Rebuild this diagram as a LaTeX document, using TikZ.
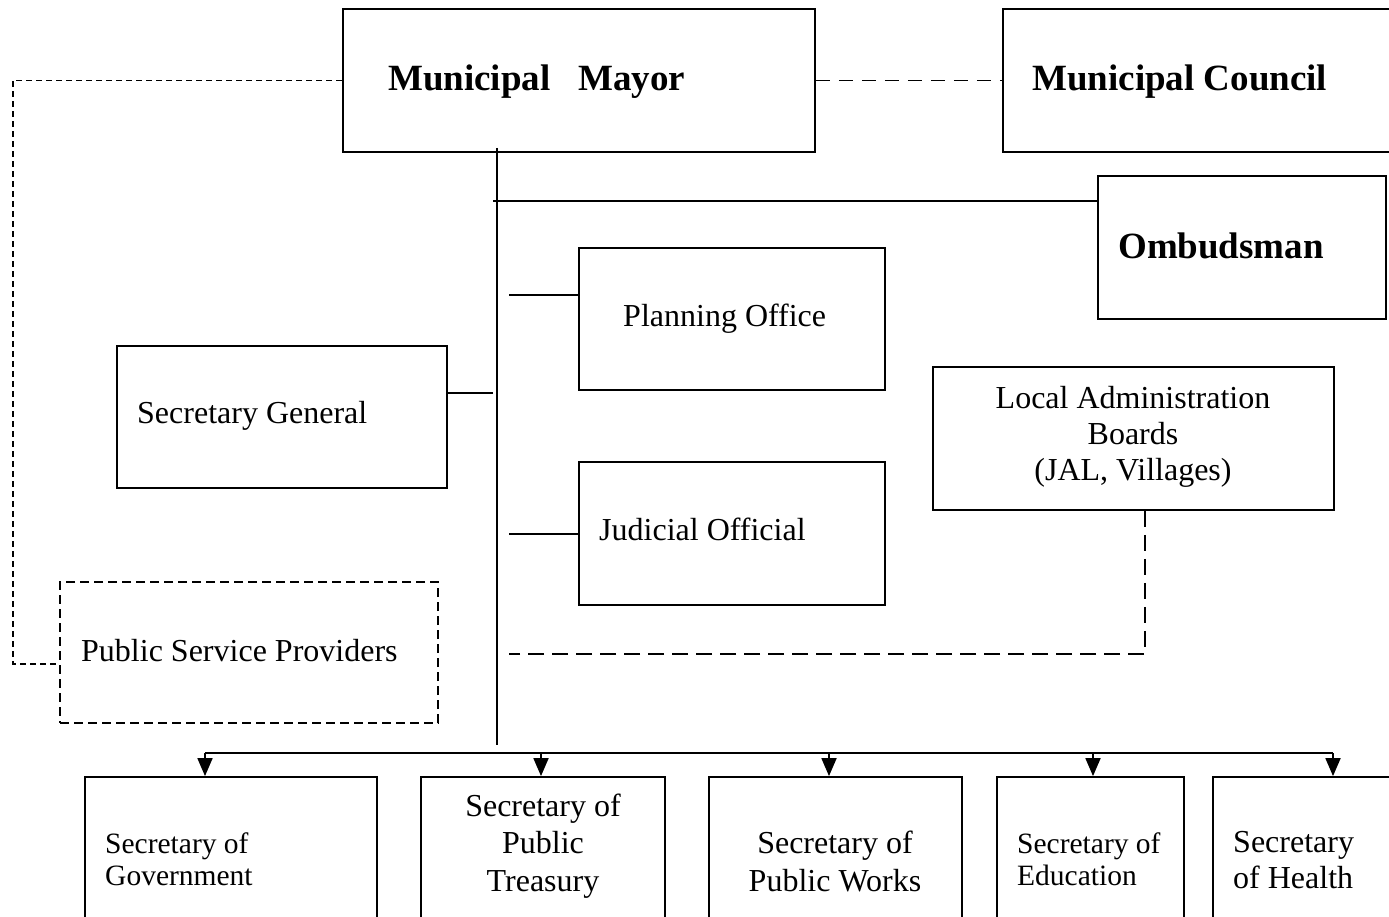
\documentclass[tikz,border=0pt]{standalone}
\usepackage{fontspec}
\setmainfont{Liberation Serif}
\usetikzlibrary{arrows.meta}

\begin{document}
\begin{tikzpicture}[x=1pt, y=-1pt,
  box/.style={draw, line width=1.8pt, inner sep=0pt, rectangle},
  dashbox/.style={draw, line width=1.8pt, inner sep=0pt, rectangle, dash pattern=on 9pt off 5pt},
  link/.style={line width=1.8pt},
  dashwide/.style={line width=1.8pt, dash pattern=on 14pt off 9pt},
  dashfine/.style={line width=1.3pt, dash pattern=on 6pt off 4pt},
  dashlong/.style={line width=1.8pt, dash pattern=on 16pt off 8pt},
  arr/.style={line width=1.8pt, -{Triangle[width=15pt,length=18pt]}},
  lbl/.style={inner sep=0pt, anchor=base west, font=\fontsize{32}{37.5}\selectfont},
  lblsmall/.style={inner sep=0pt, anchor=base west, font=\fontsize{29.5}{32}\selectfont, align=left},
  lblbold/.style={inner sep=0pt, anchor=base west, font=\fontsize{37}{42}\selectfont\bfseries},
  lblc/.style={inner sep=0pt, anchor=base, align=center},
]
\clip (0,0) rectangle (1389,917);
\fill[white] (0,0) rectangle (1389,917);

% --- top level ---
\node[box, minimum width=472pt, minimum height=143pt] (mayor) at (579,80.5) {};
\node[box, minimum width=397pt, minimum height=143pt] (council) at (1201.5,80.5) {};
\node[box, minimum width=288pt, minimum height=143pt] (ombud) at (1242,247.5) {};
\node[lblbold] (mayor-t) at (388,91) {Municipal\hspace{0.75em}Mayor};
\node[lblbold] (council-t) at (1032,91) {Municipal Council};
\node[lblbold] (ombud-t) at (1118,259) {Ombudsman};

% --- staff offices ---
\node[box, minimum width=306pt, minimum height=142pt] (plan) at (732,319) {};
\node[box, minimum width=330pt, minimum height=142pt] (secgen) at (282,417) {};
\node[box, minimum width=306pt, minimum height=143pt] (judic) at (732,533.5) {};
\node[box, minimum width=401pt, minimum height=143pt] (lab) at (1133.5,438.5) {};
\node[dashbox, minimum width=378pt, minimum height=141pt] (psp) at (249,652.5) {};
\node[lbl] (plan-t) at (623,326) {Planning Office};
\node[lbl] (secgen-t) at (137,423) {Secretary General};
\node[lbl] (judic-t) at (599,540) {Judicial Official};
\node[lbl] (psp-t) at (81,661) {Public Service Providers};
% multi-line labels are placed by the baseline of their last line
\node[lblc, font=\fontsize{32}{36}\selectfont] (lab-t) at (1133,480)
  {Local Administration\\Boards\\(JAL, Villages)};

% --- secretariats ---
\node[box, minimum width=292pt, minimum height=163pt] (gov) at (231,858.5) {};
\node[box, minimum width=244pt, minimum height=163pt] (treas) at (543,858.5) {};
\node[box, minimum width=253pt, minimum height=163pt] (works) at (835.5,858.5) {};
\node[box, minimum width=187pt, minimum height=163pt] (edu) at (1090.5,858.5) {};
\node[box, minimum width=187pt, minimum height=163pt] (health) at (1306.5,858.5) {};
\node[lblsmall] (gov-t) at (105,885) {Secretary of\\Government};
\node[lblc, font=\fontsize{32}{37.5}\selectfont] (treas-t) at (543,891) {Secretary of\\Public\\Treasury};
\node[lblc, font=\fontsize{32}{37.5}\selectfont] (works-t) at (835,891) {Secretary of\\Public Works};
\node[lblsmall] (edu-t) at (1017,885) {Secretary of\\Education};
\node[lbl, align=left, font=\fontsize{32}{36}\selectfont] (health-t) at (1233,888) {Secretary\\of Health};

% --- trunk and taps ---
\coordinate (trunktop) at (497,148);
\coordinate (trunkbot) at (497,745);
\coordinate (ombtap) at (493,201);
\coordinate (plantap) at (509,295);
\coordinate (sgtap) at (493,393);
\coordinate (judtap) at (509,534);
\coordinate (labtap) at (509,654);
\coordinate (labdrop) at (1145,654);
\coordinate (leftbend) at (13,664);
\coordinate (pspin) at (60,664);

\draw[link] (trunktop) -- (trunkbot);
\draw[link] (ombtap) -- (ombtap -| ombud.west);
\draw[link] (plantap) -- (plantap -| plan.west);
\draw[link] (sgtap) -- (sgtap -| secgen.east);
\draw[link] (judtap) -- (judtap -| judic.west);

\draw[dashwide] (mayor.east) -- (council.west);
\draw[dashfine] (mayor.west) -| (leftbend) -- (pspin);
\draw[dashlong] (labdrop |- lab.south) -- (labdrop) -- (labtap);

% --- distribution bus ---
\coordinate (a1) at (205,753);
\coordinate (a2) at (541,753);
\coordinate (a3) at (829,753);
\coordinate (a4) at (1093,753);
\coordinate (a5) at (1333,753);
\draw[link] (a1) -- (a5);
\draw[arr] (a1) -- (a1 |- gov.north);
\draw[arr] (a2) -- (a2 |- treas.north);
\draw[arr] (a3) -- (a3 |- works.north);
\draw[arr] (a4) -- (a4 |- edu.north);
\draw[arr] (a5) -- (a5 |- health.north);
\end{tikzpicture}
\end{document}
